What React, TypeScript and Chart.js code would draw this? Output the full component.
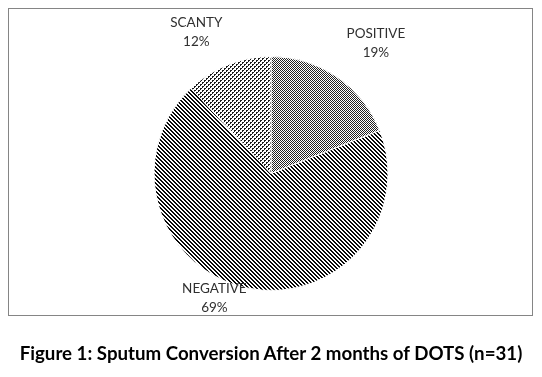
import React, { useEffect, useRef } from "react";
import { Chart, registerables } from "chart.js";

Chart.register(...registerables);

const categories = ["POSITIVE", "NEGATIVE", "SCANTY"];
const percentages = [19, 69, 12];
const figureTitle = "Figure 1: Sputum Conversion After 2 months of DOTS (n=31)";

// label placement nudges (pixels), styling only
const labelNudges: [number, number][] = [
  [26, -14],
  [-26, -12],
  [-23, -11],
];

function makePattern(kind: string): CanvasPattern | string {
  const tile = document.createElement("canvas");
  const size = 4;
  tile.width = size;
  tile.height = size;
  const c = tile.getContext("2d");
  if (!c) return "#888";
  c.fillStyle = "#ffffff";
  c.fillRect(0, 0, size, size);
  for (let y = 0; y < size; y++) {
    for (let x = 0; x < size; x++) {
      let on = false;
      let col = "#000000";
      if (kind === "checker") {
        on = (x + y) % 2 === 0;
        col = "#222222";
      } else if (kind === "stripes") {
        const d = (((x - y) % 4) + 4) % 4;
        on = d === 0 || d === 1;
        col = "#0a0a0a";
      } else if (kind === "dots") {
        on =
          (x === 0 && y === 0) ||
          (x === 1 && y === 0) ||
          (x === 0 && y === 1) ||
          (x === 2 && y === 2) ||
          (x === 3 && y === 2) ||
          (x === 2 && y === 3);
        col = "#1a1a1a";
      }
      if (on) {
        c.fillStyle = col;
        c.fillRect(x, y, 1, 1);
      }
    }
  }
  const main = document.createElement("canvas").getContext("2d");
  const p = main ? main.createPattern(tile, "repeat") : null;
  return p || "#888";
}

const labelPlugin = {
  id: "sliceLabels",
  afterDatasetsDraw(chart: any) {
    const ctx = chart.ctx as CanvasRenderingContext2D;
    const meta = chart.getDatasetMeta(0);
    meta.data.forEach((arc: any, i: number) => {
      const p = arc.getProps(["x", "y", "startAngle", "endAngle", "outerRadius"], true);
      const mid = (p.startAngle + p.endAngle) / 2;
      const R = p.outerRadius * 1.2;
      const x = p.x + Math.cos(mid) * R + labelNudges[i][0];
      const y = p.y + Math.sin(mid) * R + labelNudges[i][1];
      ctx.save();
      ctx.fillStyle = "#303030";
      ctx.font = "13.5px Lato";
      ctx.textAlign = "center";
      ctx.textBaseline = "middle";
      ctx.fillText(categories[i], x, y - 9.5);
      ctx.fillText(percentages[i] + "%", x, y + 9.5);
      ctx.restore();
    });
  },
};

export default function App() {
  const canvasRef = useRef<HTMLCanvasElement | null>(null);

  useEffect(() => {
    if (!canvasRef.current) return;
    const fills = [makePattern("checker"), makePattern("stripes"), makePattern("dots")];
    const chart = new Chart(canvasRef.current, {
      type: "pie",
      data: {
        labels: categories,
        datasets: [
          {
            data: percentages,
            backgroundColor: fills as any,
            borderColor: "#ffffff",
            borderWidth: 1,
          },
        ],
      },
      options: {
        responsive: false,
        animation: false,
        layout: { padding: { left: 153, right: 153, top: 56, bottom: 86 } },
        plugins: {
          legend: { display: false },
          tooltip: { enabled: false },
          title: { display: false },
        },
      },
      plugins: [labelPlugin],
    });
    return () => chart.destroy();
  }, []);

  return (
    <div
      style={{
        position: "absolute",
        left: 0,
        top: 0,
        width: 542,
        height: 377,
        background: "#ffffff",
        overflow: "hidden",
      }}
    >
      <div
        style={{
          position: "absolute",
          left: 8,
          top: 8,
          width: 525,
          height: 308,
          boxSizing: "border-box",
          border: "1px solid #858585",
        }}
      />
      <canvas
        ref={canvasRef}
        width={542}
        height={377}
        style={{ position: "absolute", left: 0, top: 0, width: 542, height: 377 }}
      />
      <div
        style={{
          position: "absolute",
          left: 0,
          top: 342,
          width: 542,
          textAlign: "center",
          fontFamily: "Lato, sans-serif",
          fontWeight: 700,
          fontSize: 18.7,
          lineHeight: "22px",
          color: "#000000",
          whiteSpace: "nowrap",
        }}
      >
        {figureTitle}
      </div>
    </div>
  );
}
